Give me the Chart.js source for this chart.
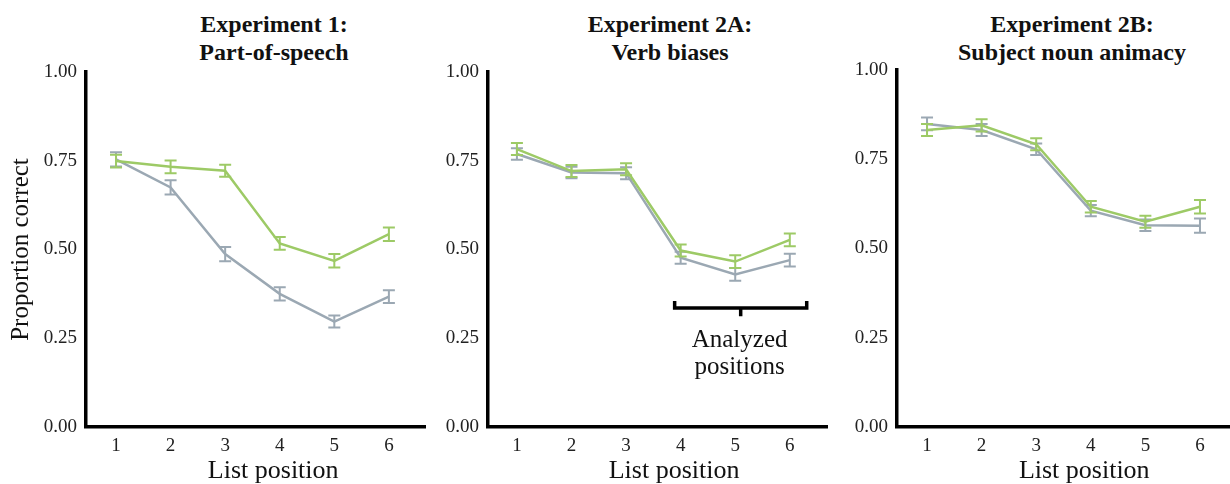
<!DOCTYPE html>
<html><head><meta charset="utf-8">
<script src="https://cdn.jsdelivr.net/npm/chart.js@4"></script>
<style>
html,body{margin:0;padding:0;background:#fff;width:1230px;height:484px;overflow:hidden;position:relative}
canvas{position:absolute;top:0}
.ttl{position:absolute;font-family:"Liberation Serif",serif;font-weight:bold;font-size:24px;line-height:28px;color:#111;text-align:center;width:300px;white-space:nowrap}
</style></head><body>
<div class="ttl" style="left:124px;top:10px">Experiment 1:<br>Part-of-speech</div>
<div class="ttl" style="left:520px;top:10px">Experiment 2A:<br>Verb biases</div>
<div class="ttl" style="left:922px;top:10px">Experiment 2B:<br>Subject noun animacy</div>
<canvas id="c1" width="426" height="484" style="left:0px"></canvas>
<canvas id="c2" width="400" height="484" style="left:428px"></canvas>
<canvas id="c3" width="398" height="484" style="left:832px"></canvas>
<script>
// ---- data ----
const categories = ['1', '2', '3', '4', '5', '6'];
const yTickValues = [0, 0.25, 0.5, 0.75, 1.0];

const exp1Green    = [0.749, 0.733, 0.722, 0.517, 0.468, 0.543];
const exp1GreenErr = [0.018, 0.018, 0.017, 0.018, 0.019, 0.019];
const exp1Gray     = [0.754, 0.675, 0.487, 0.375, 0.297, 0.367];
const exp1GrayErr  = [0.020, 0.020, 0.020, 0.019, 0.017, 0.018];

const exp2aGreen    = [0.783, 0.721, 0.726, 0.497, 0.466, 0.527];
const exp2aGreenErr = [0.017, 0.017, 0.017, 0.017, 0.018, 0.018];
const exp2aGray     = [0.769, 0.717, 0.715, 0.477, 0.430, 0.470];
const exp2aGrayErr  = [0.016, 0.016, 0.017, 0.017, 0.018, 0.018];

const exp2bGreen    = [0.832, 0.845, 0.792, 0.617, 0.575, 0.617];
const exp2bGreenErr = [0.017, 0.017, 0.017, 0.016, 0.017, 0.019];
const exp2bGray     = [0.849, 0.832, 0.778, 0.606, 0.565, 0.564];
const exp2bGrayErr  = [0.018, 0.017, 0.016, 0.016, 0.016, 0.020];

const annotationLines = ['Analyzed', 'positions'];
const xAxisTitle = 'List position';
const yAxisTitle = 'Proportion correct';

// ---- styles ----
const GREEN = '#9dca66';
const GRAY = '#9ba8b3';
const FONT = '"Liberation Serif", "Times New Roman", serif';

const errorBars = {
  id: 'errorBars',
  afterDatasetDraw(chart, args) {
    const ds = chart.data.datasets[args.index];
    const y = chart.scales.y;
    const ctx = chart.ctx;
    ctx.save();
    ctx.strokeStyle = ds.borderColor;
    ctx.lineWidth = 2;
    args.meta.data.forEach((pt, i) => {
      const v = ds.data[i].y, e = ds.errors[i];
      const x = pt.x, yt = y.getPixelForValue(v + e), yb = y.getPixelForValue(v - e);
      ctx.beginPath();
      ctx.moveTo(x, yt); ctx.lineTo(x, yb);
      ctx.moveTo(x - 6, yt); ctx.lineTo(x + 6, yt);
      ctx.moveTo(x - 6, yb); ctx.lineTo(x + 6, yb);
      ctx.stroke();
    });
    ctx.restore();
  }
};

// x-axis title, centred at a position on the x scale (as in the original figure)
const xTitlePlugin = {
  id: 'xTitle',
  afterDraw(chart, args, opts) {
    const xs = chart.scales.x, ctx = chart.ctx;
    ctx.save();
    ctx.fillStyle = '#111';
    ctx.font = '26px ' + FONT;
    ctx.textAlign = 'center';
    ctx.textBaseline = 'middle';
    ctx.fillText(xAxisTitle, xs.getPixelForValue(opts.at), xs.bottom - 12.5);
    ctx.restore();
  }
};

const bracketPlugin = {
  id: 'bracket',
  afterDraw(chart, args, opts) {
    if (!opts || !opts.show) return;
    const xs = chart.scales.x, ys = chart.scales.y, ctx = chart.ctx;
    const x1 = xs.getPixelForValue(opts.xStart), x2 = xs.getPixelForValue(opts.xEnd);
    const xm = xs.getPixelForValue(opts.xMid);
    const yl = ys.getPixelForValue(opts.y), ye = ys.getPixelForValue(opts.yEnds), ym = ys.getPixelForValue(opts.yMid);
    ctx.save();
    ctx.strokeStyle = '#000';
    ctx.lineWidth = 3.5;
    ctx.lineJoin = 'miter';
    ctx.beginPath();
    ctx.moveTo(x1, ye); ctx.lineTo(x1, yl); ctx.lineTo(x2, yl); ctx.lineTo(x2, ye);
    ctx.moveTo(xm, yl); ctx.lineTo(xm, ym);
    ctx.stroke();
    ctx.fillStyle = '#111';
    ctx.font = '25px ' + FONT;
    ctx.textAlign = 'center';
    ctx.textBaseline = 'alphabetic';
    const tx = xs.getPixelForValue(opts.textX);
    annotationLines.forEach((t, i) => ctx.fillText(t, tx, ys.getPixelForValue(opts.textY[i])));
    ctx.restore();
  }
};

function makePanel(id, green, greenErr, gray, grayErr, cfg) {
  const toPts = arr => arr.map((v, i) => ({x: i + 1, y: v}));
  new Chart(document.getElementById(id), {
    type: 'line',
    data: {
      datasets: [
        {data: toPts(green), errors: greenErr, borderColor: GREEN, borderWidth: 2.5, pointRadius: 0, tension: 0, fill: false},
        {data: toPts(gray), errors: grayErr, borderColor: GRAY, borderWidth: 2.5, pointRadius: 0, tension: 0, fill: false}
      ]
    },
    options: {
      responsive: false,
      animation: false,
      events: [],
      layout: {padding: {top: cfg.top, left: 0, right: 0, bottom: 0}},
      plugins: {
        legend: {display: false},
        tooltip: {enabled: false},
        xTitle: {at: 3.88},
        bracket: cfg.bracket || {show: false}
      },
      scales: {
        x: {
          type: 'linear',
          min: cfg.xMin, max: cfg.xMax,
          afterFit(s) { s.height = 57; },
          grid: {display: false, drawTicks: false},
          border: {display: true, color: '#000', width: 3.5},
          afterBuildTicks(s) { s.ticks = categories.map((c, i) => ({value: i + 1})); },
          ticks: {
            autoSkip: false, padding: 8, color: '#222',
            font: {family: FONT, size: 19},
            maxRotation: 0,
            callback: v => categories[v - 1]
          },
          title: {display: false}
        },
        y: {
          min: 0, max: 1,
          afterFit(s) { s.width = cfg.yWidth; },
          afterBuildTicks(s) { s.ticks = yTickValues.map(v => ({value: v})); },
          grid: {display: false, drawTicks: false},
          border: {display: true, color: '#000', width: 3.5},
          ticks: {padding: 9, color: '#222', font: {family: FONT, size: 19},
                  callback: v => v.toFixed(2)},
          title: {display: !!cfg.yTitle, text: cfg.yTitle || '', color: '#111',
                  font: {family: FONT, size: 25}, padding: {top: 6, bottom: 0}}
        }
      }
    },
    plugins: [errorBars, xTitlePlugin, bracketPlugin]
  });
}

makePanel('c1', exp1Green, exp1GreenErr, exp1Gray, exp1GrayErr,
  {top: 72, yWidth: 86, xMin: 0.45, xMax: 6.68, yTitle: yAxisTitle});
makePanel('c2', exp2aGreen, exp2aGreenErr, exp2aGray, exp2aGrayErr,
  {top: 72, yWidth: 60, xMin: 0.47, xMax: 6.70,
   bracket: {show: true, xStart: 3.89, xEnd: 6.31, xMid: 5.1, y: 0.335, yEnds: 0.355, yMid: 0.312,
             textX: 5.08, textY: [0.225, 0.149]}});
makePanel('c3', exp2bGreen, exp2bGreenErr, exp2bGray, exp2bGrayErr,
  {top: 70, yWidth: 65, xMin: 0.45, xMax: 6.55});
</script>
</body></html>
